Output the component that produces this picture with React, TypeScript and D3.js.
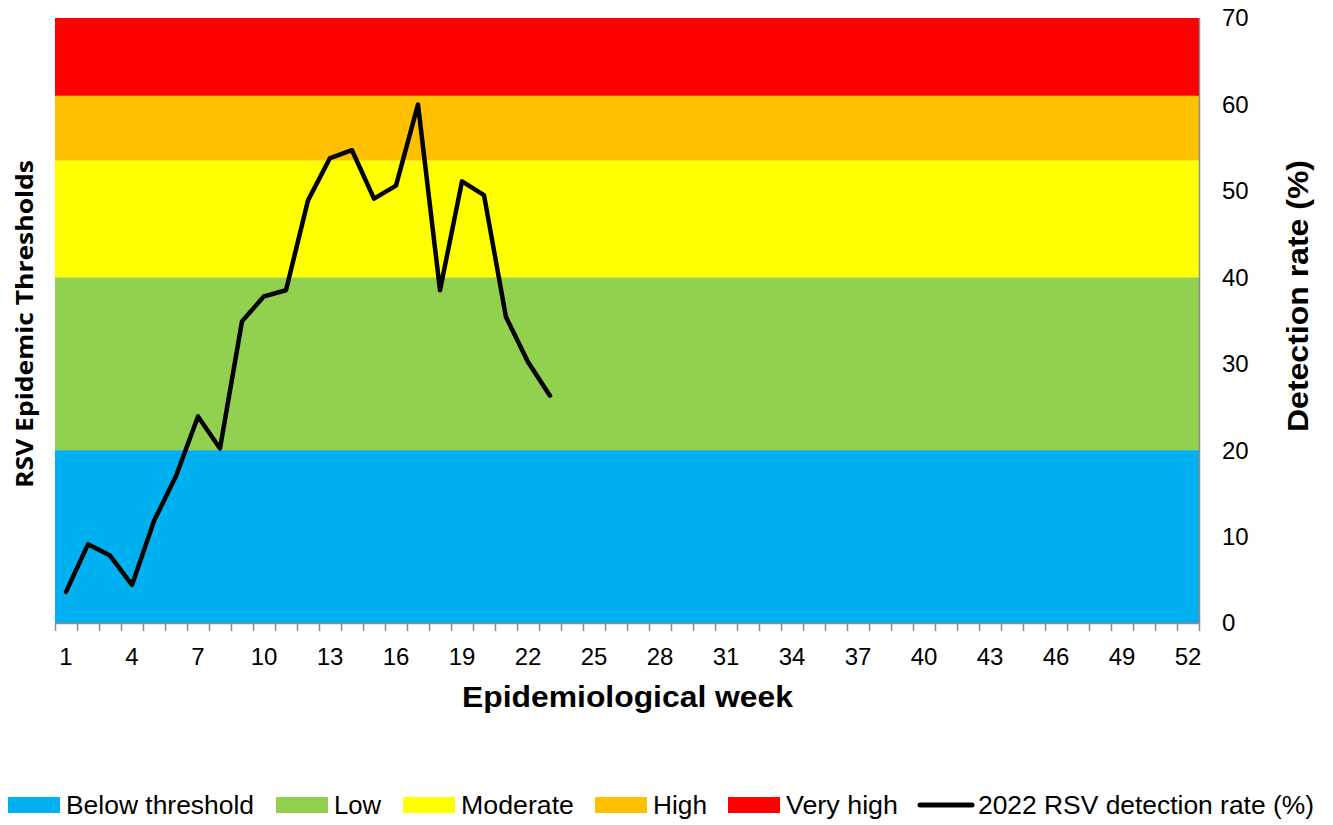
import React from "react";
import * as d3 from "d3";

const weeks: number[] = Array.from({ length: 52 }, (_, i) => i + 1);
const tickWeeks: number[] = [1, 4, 7, 10, 13, 16, 19, 22, 25, 28, 31, 34, 37, 40, 43, 46, 49, 52];
const yTicks: number[] = [0, 10, 20, 30, 40, 50, 60, 70];

const detectionWeeks: number[] = [1, 2, 3, 4, 5, 6, 7, 8, 9, 10, 11, 12, 13, 14, 15, 16, 17, 18, 19, 20, 21, 22, 23];
const detectionRate: number[] = [3.6, 9.1, 7.8, 4.4, 11.8, 17.0, 23.9, 20.2, 34.9, 37.8, 38.5, 48.9, 53.8, 54.7, 49.1, 50.6, 60.0, 38.5, 51.1, 49.5, 35.4, 30.2, 26.3];

const thresholdNames: string[] = ["Below threshold", "Low", "Moderate", "High", "Very high"];
const thresholdLower: number[] = [0, 20, 40, 53.5, 61.0];
const thresholdUpper: number[] = [20, 40, 53.5, 61.0, 70];
const thresholdColors: string[] = ["#00B0F0", "#92D050", "#FFFF00", "#FFC000", "#FF0000"];
const lineLabel = "2022 RSV detection rate (%)";

const W = 1333;
const H = 825;
const left = 55;
const right = 1199;
const top = 18;
const bottom = 623;

export default function App() {
  const x = d3.scaleBand<number>().domain(weeks).range([left, right]).paddingInner(0).paddingOuter(0);
  const y = d3.scaleLinear().domain([0, 70]).range([bottom, top]);
  const cx = (w: number) => (x(w) as number) + x.bandwidth() / 2;

  const line = d3
    .line<number>()
    .x((_, i) => cx(detectionWeeks[i]))
    .y((v) => y(v));

  const boundaries = d3.range(0, 53).map((i) => left + i * x.bandwidth());

  const legendSwatchX = [8, 276, 403, 595, 728];
  const legendTextX = [66, 334, 461, 653, 786];
  const legendTextW = [188, 47, 113, 54, 112];

  return (
    <svg width={W} height={H} style={{ position: "absolute", left: 0, top: 0 }} fontFamily="'Liberation Sans', Arial, sans-serif">
      <rect x={0} y={0} width={W} height={H} fill="#ffffff" />
      {thresholdNames.map((n, i) => (
        <rect
          key={n}
          x={left}
          width={right - left}
          y={y(thresholdUpper[i])}
          height={y(thresholdLower[i]) - y(thresholdUpper[i])}
          fill={thresholdColors[i]}
        />
      ))}
      {/* right axis line */}
      <line x1={right + 0.5} x2={right + 0.5} y1={top} y2={bottom + 1} stroke="#8c8c8c" strokeWidth={1.5} />
      {/* bottom axis */}
      <line x1={left} x2={right + 1} y1={bottom + 0.5} y2={bottom + 0.5} stroke="#8c8c8c" strokeWidth={1.5} />
      {boundaries.map((bx, i) => (
        <line key={i} x1={bx + 0.5} x2={bx + 0.5} y1={bottom} y2={bottom + 8} stroke="#8c8c8c" strokeWidth={1.5} />
      ))}
      {tickWeeks.map((w) => (
        <text key={w} x={cx(w)} y={665} fontSize={24} textAnchor="middle" fill="#000">
          {w}
        </text>
      ))}
      {yTicks.map((t) => (
        <text key={t} x={1222} y={y(t)} dy="0.35em" fontSize={24} fill="#000">
          {t}
        </text>
      ))}
      <path d={line(detectionRate) || ""} fill="none" stroke="#000" strokeWidth={4.5} strokeLinejoin="round" strokeLinecap="round" />
      {/* axis titles */}
      <text x={627.5} y={707} fontSize={30} fontWeight="bold" textAnchor="middle" textLength={331} lengthAdjust="spacingAndGlyphs">
        Epidemiological week
      </text>
      <text
        transform="translate(1308,296) rotate(-90)"
        fontSize={30}
        fontWeight="bold"
        textAnchor="middle"
        textLength={272}
        lengthAdjust="spacingAndGlyphs"
      >
        Detection rate (%)
      </text>
      <text
        transform="translate(33,324) rotate(-90)"
        fontSize={24}
        fontWeight="bold"
        fontFamily="'Open Sans', sans-serif"
        textAnchor="middle"
        textLength={328}
        lengthAdjust="spacingAndGlyphs"
      >
        RSV Epidemic Thresholds
      </text>
      {/* legend */}
      {thresholdNames.map((n, i) => (
        <g key={n}>
          <rect x={legendSwatchX[i]} y={797} width={52} height={16} fill={thresholdColors[i]} />
          <text x={legendTextX[i]} y={814} fontSize={26} textLength={legendTextW[i]} lengthAdjust="spacingAndGlyphs">
            {n}
          </text>
        </g>
      ))}
      <line x1={920} x2={972} y1={805} y2={805} stroke="#000" strokeWidth={5} strokeLinecap="round" />
      <text x={978} y={814} fontSize={26} textLength={336} lengthAdjust="spacingAndGlyphs">
        {lineLabel}
      </text>
    </svg>
  );
}
